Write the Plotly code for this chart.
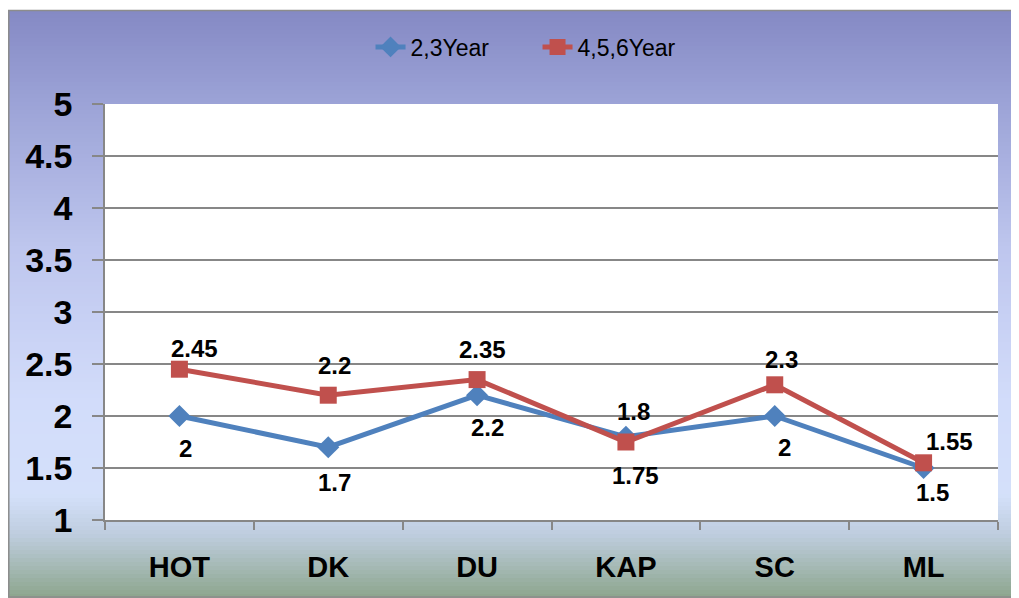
import plotly.graph_objects as go

categories = ["HOT", "DK", "DU", "KAP", "SC", "ML"]
y_23 = [2, 1.7, 2.2, 1.8, 2, 1.5]
y_456 = [2.45, 2.2, 2.35, 1.75, 2.3, 1.55]
y_ticks = [1, 1.5, 2, 2.5, 3, 3.5, 4, 4.5, 5]
y_ticklabels = ["1", "1.5", "2", "2.5", "3", "3.5", "4", "4.5", "5"]

# label offsets (pixels) - styling only
shift_23 = [(6, -32), (6, -35), (10, -32), (8, 25), (10, -31), (9, -24)]
shift_456 = [(15, 21), (6, 30), (5, 30), (10, -33), (7, 25), (26, 21)]

OFF = 8  # page body margin
W, H = 1019 - OFF, 598 - OFF
ML, MR, MT, MB = 105 - OFF, 21, 104 - OFF, 78
PW, PH = W - ML - MR, H - MT - MB

def px_x(px):  # screen px -> paper
    return (px - OFF - ML) / PW

def px_y(py):
    return (H - MB - (py - OFF)) / PH

BLUE = "#4F81BD"
RED = "#C0504D"
LABEL_FONT = "Liberation Sans, Arial, sans-serif"

fig = go.Figure()
fig.add_trace(go.Scatter(
    x=categories, y=y_23, name="2,3Year", mode="lines+markers",
    line=dict(color=BLUE, width=5),
    marker=dict(symbol="diamond", size=17, color=BLUE),
))
fig.add_trace(go.Scatter(
    x=categories, y=y_456, name="4,5,6Year", mode="lines+markers",
    line=dict(color=RED, width=5),
    marker=dict(symbol="square", size=17, color=RED),
))

annotations = []
for vals, shifts in ((y_23, shift_23), (y_456, shift_456)):
    for c, v, (dx, dy) in zip(categories, vals, shifts):
        annotations.append(dict(
            x=c, y=v, xref="x", yref="y", text=f"{v:g}", showarrow=False,
            xshift=dx, yshift=dy,
            font=dict(family=LABEL_FONT, size=24, color="black", weight="bold"),
        ))

# gradient background built from strips
stops = [
    (10, (132, 137, 196)),
    (100, (155, 162, 214)),
    (250, (190, 198, 238)),
    (400, (210, 220, 250)),
    (495, (212, 224, 250)),
    (535, (190, 205, 222)),
    (598, (140, 165, 140)),
]

def color_at(py):
    for (y0, c0), (y1, c1) in zip(stops[:-1], stops[1:]):
        if y0 <= py <= y1:
            t = (py - y0) / (y1 - y0)
            return "rgb(%d,%d,%d)" % tuple(round(a + (b - a) * t) for a, b in zip(c0, c1))
    return "rgb(%d,%d,%d)" % stops[-1][1]

shapes = []
step = 4
py = 10
while py < 598:
    py2 = min(py + step, 598)
    shapes.append(dict(
        type="rect", xref="paper", yref="paper",
        x0=px_x(4), x1=px_x(1016), y0=px_y(py2 + 0.5), y1=px_y(py),
        fillcolor=color_at(py + step / 2), line=dict(width=0), layer="below",
    ))
    py = py2
# white plot area
shapes.append(dict(type="rect", xref="paper", yref="paper", x0=0, x1=1, y0=0, y1=1,
                   fillcolor="white", line=dict(width=0), layer="below"))
# outer border
shapes.append(dict(type="rect", xref="paper", yref="paper",
                   x0=px_x(8.8), x1=px_x(1016), y0=px_y(597), y1=px_y(10.5),
                   fillcolor="rgba(0,0,0,0)", line=dict(color="#8C8C8C", width=1.5),
                   layer="above"))

fig.update_layout(
    width=W, height=H,
    margin=dict(l=ML, r=MR, t=MT, b=MB, pad=0),
    paper_bgcolor="white", plot_bgcolor="white",
    showlegend=True,
    legend=dict(orientation="h", x=px_x(375) - 0.005, y=px_y(47), xanchor="left", yanchor="middle",
                bgcolor="rgba(0,0,0,0)", entrywidth=122, entrywidthmode="pixels",
                font=dict(family=LABEL_FONT, size=23, color="black")),
    shapes=shapes, annotations=annotations,
)
fig.update_xaxes(
    type="category", range=[-0.5, 5.5], tickson="boundaries",
    ticks="outside", ticklen=8, tickcolor="#878787", tickwidth=1.5,
    showline=True, linecolor="#878787", linewidth=1.5, showgrid=False,
    tickfont=dict(family=LABEL_FONT, size=29, color="black", weight="bold"),
    ticklabelstandoff=20,
)
fig.update_yaxes(
    range=[1, 5], tickvals=y_ticks, ticktext=y_ticklabels,
    ticks="outside", ticklen=11, tickcolor="#878787", tickwidth=1.5,
    showline=True, linecolor="#878787", linewidth=1.5,
    showgrid=True, gridcolor="#878787", gridwidth=1.5, zeroline=False,
    tickfont=dict(family=LABEL_FONT, size=34, color="black", weight="bold"),
    ticklabelstandoff=13,
)

fig.write_html("out.html")
